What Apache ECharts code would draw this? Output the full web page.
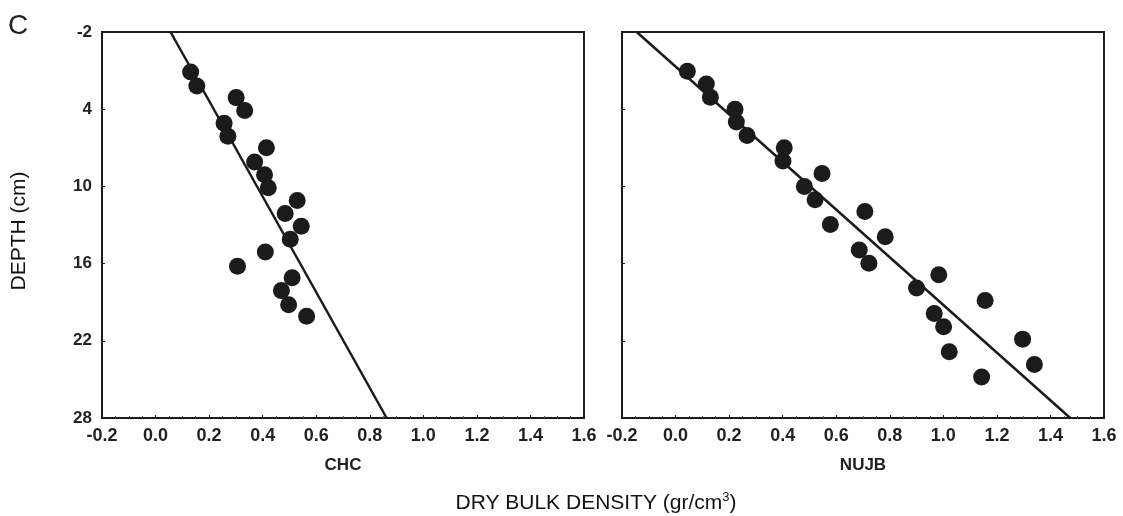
<!DOCTYPE html>
<html>
<head>
<meta charset="utf-8">
<script src="https://cdn.jsdelivr.net/npm/echarts@6/dist/echarts.min.js"></script>
<style>
html,body{margin:0;padding:0;background:#fff;}
#chart{width:1123px;height:516px;}
</style>
</head>
<body>
<div id="chart"></div>
<script>
// ---- data ----
const panelNames = ['CHC', 'NUJB'];
const xTicks = [-0.2, 0.0, 0.2, 0.4, 0.6, 0.8, 1.0, 1.2, 1.4, 1.6];
const depthTicks = [-2, 4, 10, 16, 22, 28];

const chcDensity = [0.131, 0.154, 0.301, 0.333, 0.256, 0.270, 0.414, 0.370, 0.407, 0.421,
                    0.529, 0.484, 0.544, 0.503, 0.410, 0.306, 0.510, 0.470, 0.497, 0.564];
const chcDepth   = [1.1, 2.2, 3.1, 4.1, 5.1, 6.1, 7.0, 8.1, 9.1, 10.1,
                    11.1, 12.1, 13.1, 14.1, 15.1, 16.2, 17.1, 18.1, 19.2, 20.1];

const nujbDensity = [0.044, 0.115, 0.130, 0.222, 0.227, 0.267, 0.406, 0.401, 0.547, 0.481,
                     0.521, 0.707, 0.578, 0.783, 0.686, 0.722, 0.983, 0.900, 1.156, 0.966,
                     1.001, 1.296, 1.022, 1.340, 1.143];
const nujbDepth   = [1.05, 2.05, 3.08, 4.0, 5.0, 6.05, 7.0, 8.03, 9.0, 10.0,
                     11.03, 11.95, 12.97, 13.92, 14.95, 15.97, 16.87, 17.9, 18.87, 19.87,
                     20.9, 21.87, 22.85, 23.85, 24.82];

const fitDepth = [-2, 28];
const chcFitDensity = [0.056, 0.863];
const nujbFitDensity = [-0.145, 1.474];

// ---- chart ----
const FONT = "'Liberation Sans', Arial, sans-serif";
const INK = '#1b1b1b';
const pairs = (xs, ys) => xs.map((x, i) => [x, ys[i]]);

function xAxisCfg(gi) {
  return {
    gridIndex: gi, type: 'value', min: -0.2, max: 1.6, interval: 0.2,
    axisLine: { show: true, onZero: false, lineStyle: { color: INK, width: 2 } },
    axisTick: { show: true, inside: true, length: 3, lineStyle: { color: INK } },
    minorTick: { show: true, splitNumber: 4, length: 2, lineStyle: { color: '#555' } },
    splitLine: { show: false },
    axisLabel: {
      color: '#222', fontFamily: FONT, fontSize: 18, fontWeight: 'bold', margin: 9,
      showMinLabel: true, showMaxLabel: true,
      formatter: v => (Math.abs(v) < 1e-9 ? 0 : v).toFixed(1)
    }
  };
}
function yAxisCfg(gi, showLabels) {
  return {
    gridIndex: gi, type: 'value', min: -2, max: 28, inverse: true,
    axisLine: { show: true, onZero: false, lineStyle: { color: INK, width: 2 } },
    axisTick: { show: true, inside: true, length: 3, customValues: depthTicks, lineStyle: { color: INK } },
    splitLine: { show: false },
    axisLabel: {
      show: showLabels, customValues: depthTicks,
      color: '#222', fontFamily: FONT, fontSize: 17, fontWeight: 'bold', margin: 10
    }
  };
}

const chart = echarts.init(document.getElementById('chart'), null, { renderer: 'canvas' });
chart.setOption({
  animation: false,
  backgroundColor: '#fff',
  grid: [
    { left: 102, right: 539, top: 32, bottom: 98, show: true, borderColor: INK, borderWidth: 2, backgroundColor: 'transparent' },
    { left: 622, right: 19, top: 32, bottom: 98, show: true, borderColor: INK, borderWidth: 2, backgroundColor: 'transparent' }
  ],
  xAxis: [xAxisCfg(0), xAxisCfg(1)],
  yAxis: [yAxisCfg(0, true), yAxisCfg(1, false)],
  graphic: [
    { type: 'text', left: 8, top: 12, style: { text: 'C', font: "normal 28px " + FONT, fill: '#222' } },
    { type: 'text', x: 19, y: 231, rotation: Math.PI / 2, style: { text: 'DEPTH (cm)', font: "normal 21px " + FONT, fill: '#111', align: 'center', verticalAlign: 'middle' } },
    { type: 'text', x: 343, y: 465, style: { text: panelNames[0], font: "bold 17px " + FONT, fill: '#222', align: 'center', verticalAlign: 'middle' } },
    { type: 'text', x: 863, y: 465, style: { text: panelNames[1], font: "bold 17px " + FONT, fill: '#222', align: 'center', verticalAlign: 'middle' } },
    { type: 'text', x: 596, y: 503, style: { rich: { a: { font: "21px " + FONT, fill: '#111' }, s: { font: "13px " + FONT, fill: '#111', verticalAlign: 'top', padding: [0,0,12,0] } }, text: '{a|DRY BULK DENSITY (gr/cm}{s|3}{a|)}', align: 'center', verticalAlign: 'middle' } }
  ],
  series: [
    { type: 'line', xAxisIndex: 0, yAxisIndex: 0, data: pairs(chcFitDensity, fitDepth), symbol: 'none', lineStyle: { color: INK, width: 2.5 }, z: 3 },
    { type: 'scatter', xAxisIndex: 0, yAxisIndex: 0, data: pairs(chcDensity, chcDepth), symbol: 'circle', symbolSize: 17, itemStyle: { color: INK, opacity: 1 }, z: 4 },
    { type: 'line', xAxisIndex: 1, yAxisIndex: 1, data: pairs(nujbFitDensity, fitDepth), symbol: 'none', lineStyle: { color: INK, width: 2.5 }, z: 3 },
    { type: 'scatter', xAxisIndex: 1, yAxisIndex: 1, data: pairs(nujbDensity, nujbDepth), symbol: 'circle', symbolSize: 17, itemStyle: { color: INK, opacity: 1 }, z: 4 }
  ]
});
</script>
</body>
</html>
